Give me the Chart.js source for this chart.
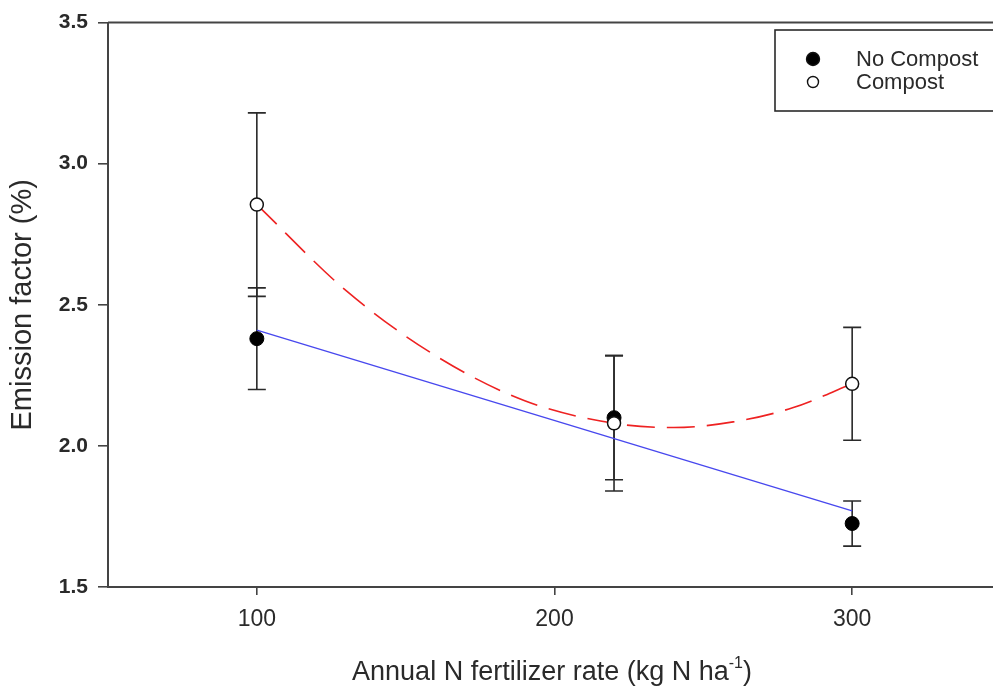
<!DOCTYPE html>
<html lang="en">
<head>
<meta charset="UTF-8">
<title>Emission factor vs N rate</title>
<script src="https://cdn.jsdelivr.net/npm/chart.js"></script>
<style>
    body {
        margin: 0;
        padding: 0;
        background: #fff;
        overflow: hidden;
    }
    #wrap {
        width: 1009px;
        height: 687px;
    }
</style>
</head>
<body>
<div id="wrap">
    <canvas id="grafico" width="1009" height="687"></canvas>
</div>
<script>
    // datos
    const rates = [100, 220, 300];
    const noCompostMean = [2.38, 2.10, 1.725];
    const noCompostErr = [0.18, 0.22, 0.08];
    const compostMean = [2.855, 2.08, 2.22];
    const compostErr = [0.325, 0.24, 0.20];

    // curvas de ajuste
    const noCompostFitX = [100, 300];
    const noCompostFitY = [2.41, 1.77];
    const compostFitX = [100, 130, 160, 190, 220, 240, 260, 280, 300];
    const compostFitY = [2.855, 2.55, 2.32, 2.16, 2.08, 2.065, 2.085, 2.135, 2.22];

    const xTicks = [100, 200, 300];
    const legendLabels = ['No Compost', 'Compost'];

    const inkColor = '#2a2a2a';
    const fontFamily = "'Liberation Sans', Arial, sans-serif";

    function toPoints(xs, ys) {
        return xs.map((x, i) => ({ x: x, y: ys[i] }));
    }

    // barras de error debajo de los puntos
    const errorBars = {
        id: 'errorBars',
        beforeDatasetsDraw(chart) {
            const ctx = chart.ctx;
            const xs = chart.scales.x;
            const ys = chart.scales.y;
            const cap = 9;
            ctx.save();
            ctx.strokeStyle = inkColor;
            ctx.lineWidth = 1.6;
            [[noCompostMean, noCompostErr], [compostMean, compostErr]].forEach(([m, e]) => {
                rates.forEach((r, i) => {
                    const px = xs.getPixelForValue(r);
                    const top = ys.getPixelForValue(m[i] + e[i]);
                    const bot = ys.getPixelForValue(m[i] - e[i]);
                    ctx.beginPath();
                    ctx.moveTo(px, top);
                    ctx.lineTo(px, bot);
                    ctx.moveTo(px - cap, top);
                    ctx.lineTo(px + cap, top);
                    ctx.moveTo(px - cap, bot);
                    ctx.lineTo(px + cap, bot);
                    ctx.stroke();
                });
            });
            ctx.restore();
        }
    };

    // marco superior, titulo del eje x y leyenda
    const extras = {
        id: 'extras',
        afterDraw(chart) {
            const ctx = chart.ctx;
            const area = chart.chartArea;
            ctx.save();
            ctx.strokeStyle = '#444';
            ctx.lineWidth = 2;
            ctx.beginPath();
            ctx.moveTo(area.left, area.top);
            ctx.lineTo(area.right, area.top);
            ctx.stroke();

            // titulo eje x con superindice
            const main = 'Annual N fertilizer rate (kg N ha';
            const sup = '-1';
            const end = ')';
            ctx.fillStyle = inkColor;
            ctx.textBaseline = 'alphabetic';
            ctx.font = '27px ' + fontFamily;
            const w1 = ctx.measureText(main).width;
            const w3 = ctx.measureText(end).width;
            ctx.font = '16px ' + fontFamily;
            const w2 = ctx.measureText(sup).width;
            let x = 552 - (w1 + w2 + w3) / 2;
            const base = 680;
            ctx.font = '27px ' + fontFamily;
            ctx.fillText(main, x, base);
            x += w1;
            ctx.font = '16px ' + fontFamily;
            ctx.fillText(sup, x, base - 12);
            x += w2;
            ctx.font = '27px ' + fontFamily;
            ctx.fillText(end, x, base);

            // leyenda
            ctx.strokeStyle = inkColor;
            ctx.lineWidth = 1.6;
            ctx.strokeRect(775, 30, 240, 81);
            const rows = [59, 82];
            ctx.font = '22px ' + fontFamily;
            ctx.textBaseline = 'middle';
            rows.forEach((y, i) => {
                ctx.beginPath();
                ctx.arc(813, y, i === 0 ? 6.5 : 5.5, 0, Math.PI * 2);
                ctx.fillStyle = i === 0 ? '#000' : '#fff';
                ctx.fill();
                ctx.lineWidth = 1.4;
                ctx.strokeStyle = '#111';
                ctx.stroke();
                ctx.fillStyle = inkColor;
                ctx.fillText(legendLabels[i], 856, y + 1);
            });
            ctx.restore();
        }
    };

    const ctx = document.getElementById('grafico').getContext('2d');
    new Chart(ctx, {
        type: 'scatter',
        data: {
            datasets: [
                {
                    label: 'Compost',
                    data: toPoints(rates, compostMean),
                    backgroundColor: '#fff',
                    borderColor: '#111',
                    borderWidth: 1.5,
                    pointRadius: 6.5,
                    showLine: false,
                    order: 0
                },
                {
                    label: 'No Compost',
                    data: toPoints(rates, noCompostMean),
                    backgroundColor: '#000',
                    borderColor: '#000',
                    borderWidth: 1,
                    pointRadius: 7,
                    showLine: false,
                    order: 1
                },
                {
                    label: 'Compost fit',
                    data: toPoints(compostFitX, compostFitY),
                    borderColor: '#ee2222',
                    borderWidth: 1.6,
                    borderDash: [28, 12],
                    pointRadius: 0,
                    showLine: true,
                    cubicInterpolationMode: 'monotone',
                    order: 2
                },
                {
                    label: 'No Compost fit',
                    data: toPoints(noCompostFitX, noCompostFitY),
                    borderColor: '#4848ee',
                    borderWidth: 1.4,
                    pointRadius: 0,
                    showLine: true,
                    order: 3
                }
            ]
        },
        options: {
            responsive: false,
            animation: false,
            devicePixelRatio: 1,
            layout: {
                padding: { top: 19, left: 0, right: 0, bottom: 0 }
            },
            plugins: {
                legend: { display: false },
                tooltip: { enabled: false }
            },
            scales: {
                x: {
                    type: 'linear',
                    min: 50,
                    max: 350,
                    afterFit: (scale) => { scale.height = 100; },
                    afterBuildTicks: (scale) => {
                        scale.ticks = xTicks.map(v => ({ value: v }));
                    },
                    grid: {
                        display: true,
                        drawOnChartArea: false,
                        drawTicks: true,
                        tickLength: 8,
                        color: '#444',
                        lineWidth: 1.6
                    },
                    border: { display: true, color: '#444', width: 2 },
                    ticks: {
                        color: inkColor,
                        padding: 11,
                        maxRotation: 0,
                        font: { size: 23, family: fontFamily }
                    }
                },
                y: {
                    min: 1.5,
                    max: 3.5,
                    afterFit: (scale) => { scale.width = 108; },
                    grid: {
                        display: true,
                        drawOnChartArea: false,
                        drawTicks: true,
                        tickLength: 10,
                        color: '#444',
                        lineWidth: 1.6
                    },
                    border: { display: true, color: '#444', width: 2 },
                    ticks: {
                        stepSize: 0.5,
                        color: inkColor,
                        padding: 10,
                        font: { size: 21, weight: 'bold', family: fontFamily },
                        callback: (v) => v.toFixed(1)
                    },
                    title: {
                        display: true,
                        text: 'Emission factor (%)',
                        color: inkColor,
                        font: { size: 29, family: fontFamily },
                        padding: { top: 6, bottom: 0 }
                    }
                }
            }
        },
        plugins: [errorBars, extras]
    });
</script>
</body>
</html>
